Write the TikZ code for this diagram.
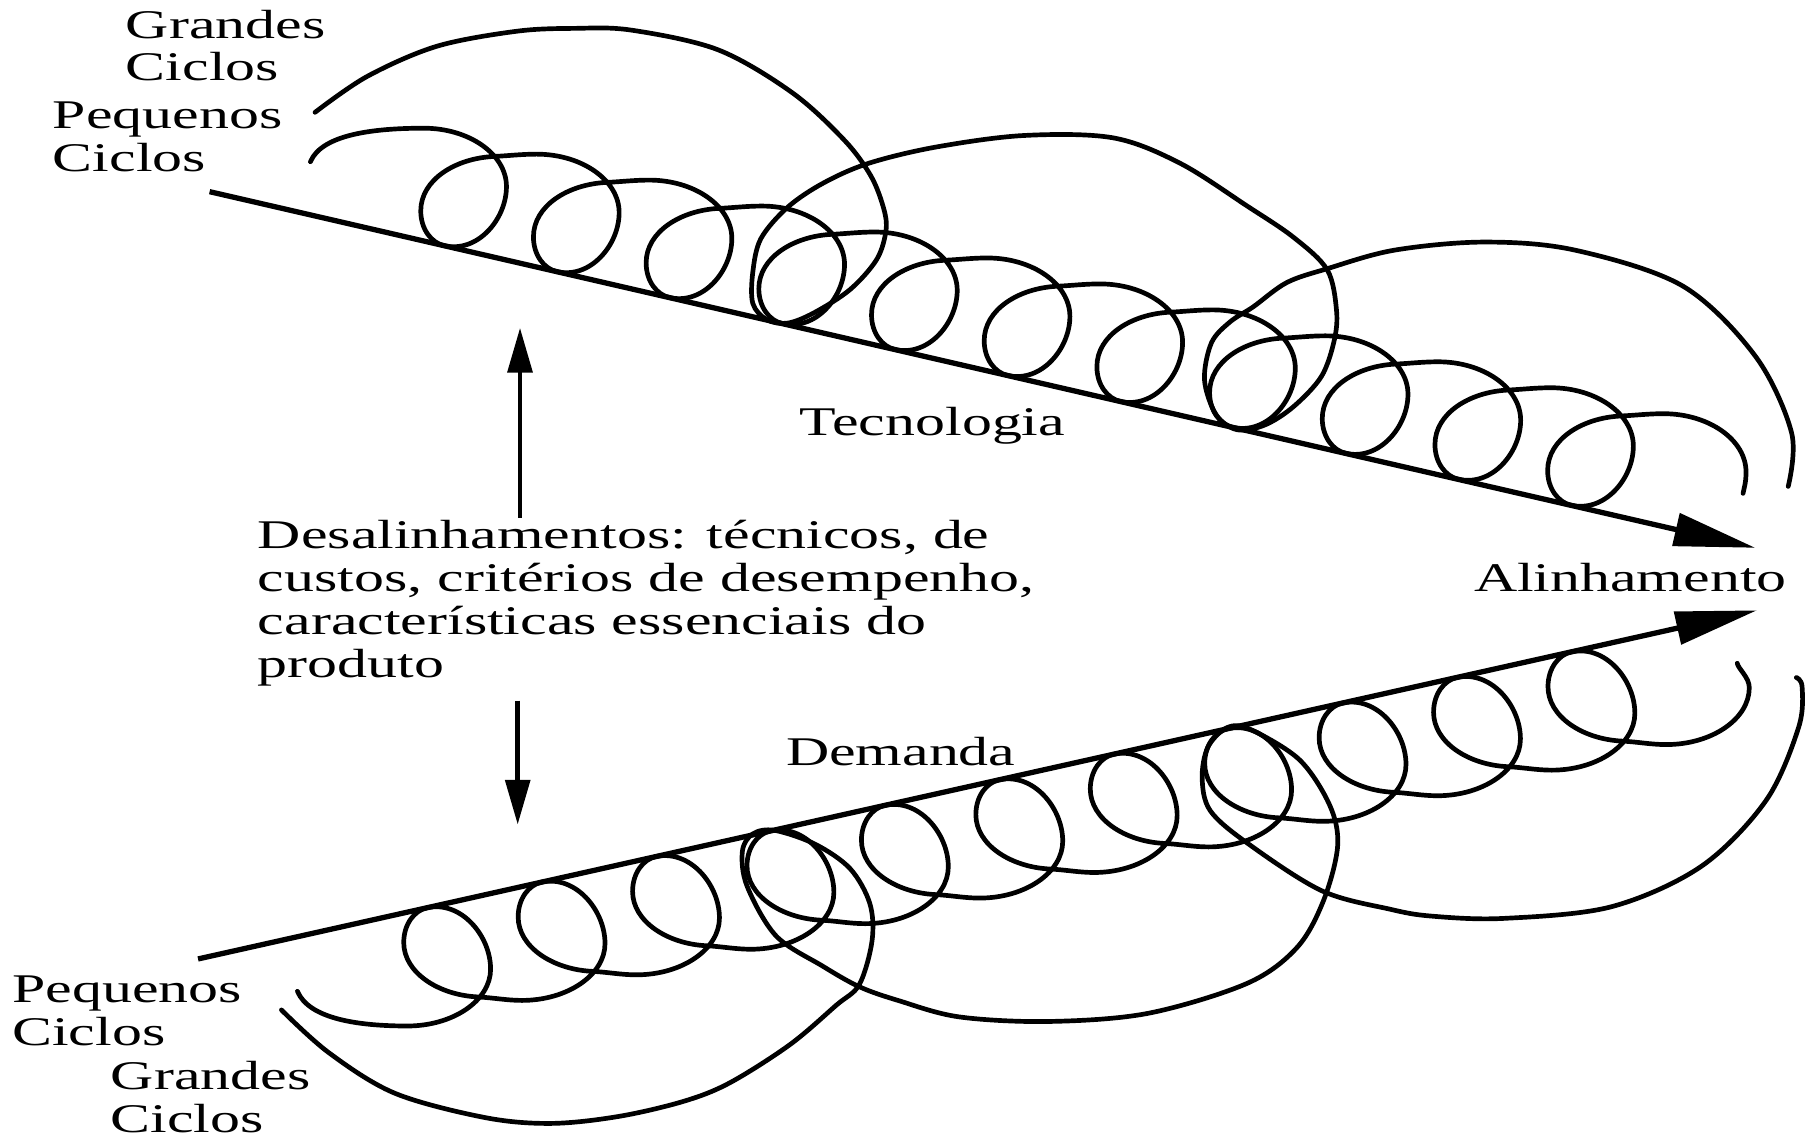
\documentclass[tikz,border=0pt]{standalone}
\usepackage{fontspec}
\setmainfont{Liberation Serif}[FakeStretch=1.47]
\usetikzlibrary{arrows.meta,calc}
\newcommand{\mlines}[1]{\begin{tabular}[t]{@{}l@{}}#1\end{tabular}}
\begin{document}
\begin{tikzpicture}[x=0.01cm,y=-0.01cm,
  coil/.style={line width=1.15pt, line join=round, line cap=round},
  axisline/.style={line width=1.3pt, -{Triangle[length=20pt,width=8pt]}},
  vert/.style={line width=1.2pt, -{Triangle[length=11pt,width=6pt]}},
  lbl/.style={inner sep=0pt, anchor=base west, font=\fontsize{10}{10.5}\selectfont}]
\useasboundingbox (0,0) rectangle (1568,982);

% axes
\coordinate (tA) at (181,165.5);
\coordinate (tB) at (1515.6,473);
\coordinate (bA) at (171,828);
\coordinate (bB) at (1517,527);
\draw[axisline] (tA) -- (tB);
\draw[axisline] (bA) -- (bB);

% key points of the small loops
\foreach \i in {0,...,12} {
  \coordinate (tb\i) at ({383.3+97.3*(\i-1)},{212.1+22.41*(\i-1)});
  \coordinate (tr\i) at ($(tb\i)+(54,-51)$);
  \coordinate (tl\i) at ($(tb\i)+(-20,-30)$);
  \coordinate (tX\i) at ($(tb\i)+(43,-77)$);
  \coordinate (tP\i) at ($(tb\i)+(80,-79)$);
  \coordinate (bb\i) at ({368.6+98.8*(\i-1)},{783.8-22.09*(\i-1)});
  \coordinate (br\i) at ($(bb\i)+(55,53)$);
  \coordinate (bl\i) at ($(bb\i)+(-20,30)$);
  \coordinate (bX\i) at ($(bb\i)+(44,77)$);
  \coordinate (bP\i) at ($(bb\i)+(82,80)$);
}
\coordinate (tS) at ($(tb0)+(-18,-50)$);
\coordinate (tE) at ($(tb12)+(51.4,-32.6)$);
\coordinate (bS) at ($(bb0)+(-13,50)$);
\coordinate (bE) at ($(bb12)+(44.6,31.9)$);

% small coil, top
\draw[coil] (tS) .. controls ($(tS)+(10,-24)$) and ($(tP0)+(-42,0)$) .. (tP0)
  .. controls ($(tP0)+(39,0)$) and ($(tr1)+(0,-28)$) .. (tr1)
  \foreach \i/\j in {1/2,2/3,3/4,4/5,5/6,6/7,7/8,8/9,9/10,10/11,11/12} {
  .. controls ($(tr\i)+(0,28)$) and ($(tb\i)+(29.2,6.7)$) .. (tb\i)
  .. controls ($(tb\i)+(-10.7,-2.5)$) and ($(tl\i)+(0,16)$) .. (tl\i)
  .. controls ($(tl\i)+(0,-27)$) and ($(tX\i)+(-33,1.6)$) .. (tX\i)
  .. controls ($(tX\i)+(13,-0.6)$) and ($(tP\i)+(-13,0)$) .. (tP\i)
  .. controls ($(tP\i)+(39,0)$) and ($(tr\j)+(0,-28)$) .. (tr\j) }
  .. controls ($(tr12)+(0,9)$) and ($(tE)+(1,-5)$) .. (tE);

% small coil, bottom
\draw[coil] (bS) .. controls ($(bS)+(10,24)$) and ($(bP0)+(-42,0)$) .. (bP0)
  .. controls ($(bP0)+(39.5,0)$) and ($(br1)+(0,27)$) .. (br1)
  \foreach \i/\j in {1/2,2/3,3/4,4/5,5/6,6/7,7/8,8/9,9/10,10/11,11/12} {
  .. controls ($(br\i)+(0,-29)$) and ($(bb\i)+(29.3,-6.5)$) .. (bb\i)
  .. controls ($(bb\i)+(-10.7,2.4)$) and ($(bl\i)+(0,-16)$) .. (bl\i)
  .. controls ($(bl\i)+(0,26)$) and ($(bX\i)+(-34,-1.6)$) .. (bX\i)
  .. controls ($(bX\i)+(13,0.6)$) and ($(bP\i)+(-13,0)$) .. (bP\i)
  .. controls ($(bP\i)+(39.5,0)$) and ($(br\j)+(0,27)$) .. (br\j) }
  .. controls ($(br12)+(0,-9)$) and ($(bE)+(1,5)$) .. (bE);

% big coils
\draw[coil] plot[smooth, tension=0.55] coordinates {
 (272,97) (317,66) (377,40) (446,27) (496,24.5) (545,26) (620,43) (684,80)
 (729,121) (752,152) (763,180) (765,199) (757,224) (734,250) (703,270)
 (680,279) (662,276) (650,262) (650,235) (657,206) (680,179) (711,158)
 (750,141) (808,127) (884,117) (961,119) (1019,141) (1077,178) (1117,205)
 (1146,233) (1154,268) (1152,294) (1141,325) (1117,351) (1092,367)
 (1068,371) (1050,358) (1040,328) (1046,296) (1062,278) (1082,265)
 (1111,244) (1146,232) (1204,216) (1282,209) (1360,216) (1453,247)
 (1516,308) (1547,374) (1544,420)};
\draw[coil] plot[smooth, tension=0.55] coordinates {
 (243,872) (284,909) (341,944) (419,965) (476,970) (534,964) (590,951)
 (630,935) (682,902) (722,868) (742,850) (753,812) (751,780) (734,750)
 (704,729) (669,717) (650,720) (641,735) (645,765) (670,808) (710,834)
 (742,852) (776,864) (828,878) (905,882) (991,875) (1077,849) (1120,818)
 (1143,777) (1155,730) (1148,695) (1122,656) (1080,630) (1060,628)
 (1043,645) (1038,672) (1045,700) (1077,728) (1141,769) (1200,785)
 (1236,791) (1298,793) (1391,783) (1469,748) (1525,691) (1553,628)
 (1556,593) (1551,585)};

% vertical arrows
\coordinate (uA) at (449,447);
\coordinate (uB) at (449,283);
\coordinate (dA) at (447,605);
\coordinate (dB) at (447,712);
\draw[vert] (uA) -- (uB);
\draw[vert] (dA) -- (dB);

% labels
\node[lbl] (gc1) at (108,33) {\mlines{Grandes\\Ciclos}};
\node[lbl] (pc1) at (45,111) {\mlines{Pequenos\\Ciclos}};
\node[lbl] (tec) at (690,376) {Tecnologia};
\node[lbl] (des) at (222,474) {\mlines{Desalinhamentos: técnicos, de\\custos, critérios de desempenho,\\características essenciais do\\produto}};
\node[lbl] (ali) at (1272,511) {Alinhamento};
\node[lbl] (dem) at (678,661) {Demanda};
\node[lbl] (pc2) at (10,866) {\mlines{Pequenos\\Ciclos}};
\node[lbl] (gc2) at (95,941) {\mlines{Grandes\\Ciclos}};
\end{tikzpicture}
\end{document}
